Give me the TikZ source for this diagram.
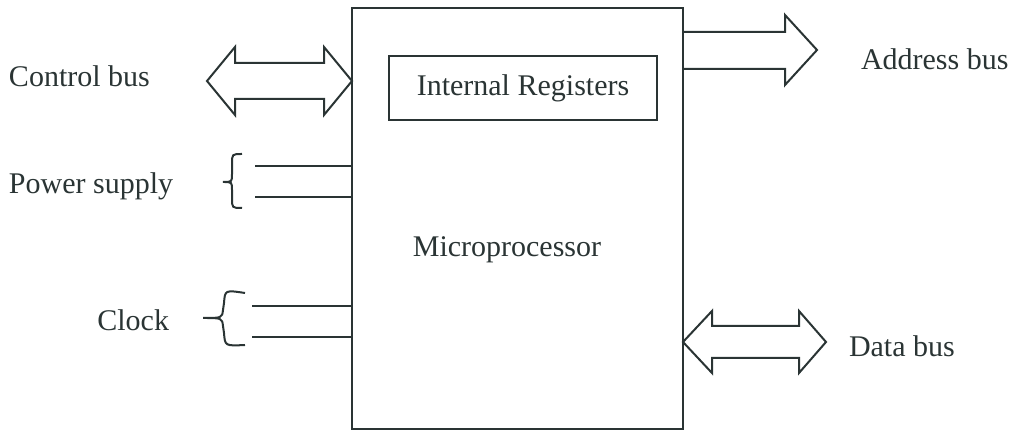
\documentclass[tikz,border=0pt]{standalone}
\usepackage{fontspec}
\setmainfont{Liberation Serif}
\definecolor{ink}{RGB}{42,52,52}
\begin{document}
\begin{tikzpicture}[x=0.5pt,y=-0.5pt,
  line width=1pt, draw=ink, text=ink,
  lbl/.style={font=\fontsize{15}{18}\selectfont, inner sep=0pt},
  box/.style={draw=ink, line width=1pt, inner sep=0pt}]
\useasboundingbox (0,0) rectangle (1018,431);
% main box
\node[box, minimum width=165.5pt, minimum height=210.5pt] (mp) at (517.5,218.5) {};
\node[box, minimum width=134pt, minimum height=32pt, lbl] (reg) at (523,88) {Internal Registers};
\node[lbl] (mptext) at (507,250) {Microprocessor};
% labels
\node[lbl, anchor=west] (cb) at (8,76) {Control bus};
\node[lbl, anchor=west] (ps) at (8,186) {Power supply};
\node[lbl, anchor=east] (ck) at (170,320) {Clock};
\node[lbl, anchor=west] (ab) at (860,59) {Address bus};
\node[lbl, anchor=west] (db) at (848,346) {Data bus};
% control bus double arrow
\draw[ink, line join=miter] (207,81) -- (235,47) -- (235,63) -- (324,63) -- (324,47) -- (352,81)
  -- (324,115) -- (324,99) -- (235,99) -- (235,115) -- cycle;
% address bus arrow
\draw[ink, line join=miter] (683,32) -- (785,32) -- (785,15) -- (817,50) -- (785,85) -- (785,69) -- (683,69);
% data bus double arrow
\draw[ink, line join=miter] (683,342) -- (712,311) -- (712,326) -- (799,326) -- (799,311) -- (826,342)
  -- (799,373) -- (799,358) -- (712,358) -- (712,373) -- cycle;
% power supply lines and brace
\coordinate (p1) at (255,166);
\coordinate (p2) at (255,197);
\draw[ink] (p1) -- (p1 -| mp.west);
\draw[ink] (p2) -- (p2 -| mp.west);
\draw[ink] (242,154) .. controls (232,154) .. (232,164) -- (232,174) .. controls (232,182) .. (223,182)
  .. controls (232,182) .. (232,190) -- (232,198) .. controls (232,208) .. (242,208);
% clock lines and brace
\coordinate (c1) at (252,306);
\coordinate (c2) at (252,337);
\draw[ink] (c1) -- (c1 -| mp.west);
\draw[ink] (c2) -- (c2 -| mp.west);
\draw[ink] (245,293) .. controls (225,290) .. (224,303) -- (223,310) .. controls (222,318) .. (203,318)
  .. controls (222,318) .. (223,326) -- (224,333) .. controls (225,346) .. (245,345);
\end{tikzpicture}
\end{document}
